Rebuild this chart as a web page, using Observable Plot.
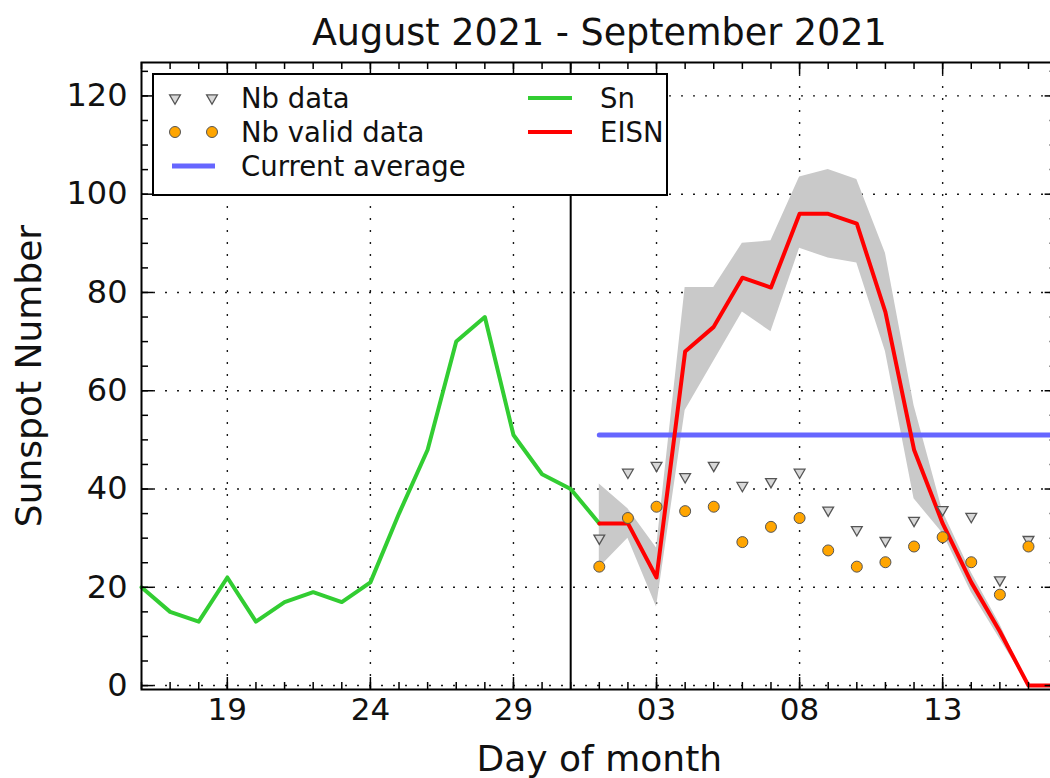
<!DOCTYPE html>
<html><head><meta charset="utf-8">
<script src="https://cdn.jsdelivr.net/npm/d3@7"></script>
<script src="https://cdn.jsdelivr.net/npm/@observablehq/plot@0.6"></script>
<style>
html,body{margin:0;padding:0;background:#fff;overflow:hidden;width:1050px;height:778px;}
#chart{position:relative;width:1050px;height:778px;overflow:hidden;}
#chart svg{max-width:none !important;}
</style></head><body><div id="chart"></div>
<script>
// ---- data ----
const snDates = ["2021-08-16","2021-08-17","2021-08-18","2021-08-19","2021-08-20","2021-08-21","2021-08-22","2021-08-23","2021-08-24","2021-08-25","2021-08-26","2021-08-27","2021-08-28","2021-08-29","2021-08-30","2021-08-31","2021-09-01"];
const snValues = [20,15,13,22,13,17,19,17,21,35,48,70,75,51,43,40,33];

const eisnDates = ["2021-09-01","2021-09-02","2021-09-03","2021-09-04","2021-09-05","2021-09-06","2021-09-07","2021-09-08","2021-09-09","2021-09-10","2021-09-11","2021-09-12","2021-09-13","2021-09-14","2021-09-15","2021-09-16","2021-09-17"];
const eisnValues = [33,33,22,68,73,83,81,96,96,94,76,48,33,21,11,0,0];
const eisnLow    = [24,30,16,56,66,76,72,89,87,86,68,38,31,19,9.5,0,0];
const eisnHigh   = [41,36,28,81,81,90,90.5,103.5,105,103,88,57,35.5,23,12.5,0,0];

const nbDates = ["2021-09-01","2021-09-02","2021-09-03","2021-09-04","2021-09-05","2021-09-06","2021-09-07","2021-09-08","2021-09-09","2021-09-10","2021-09-11","2021-09-12","2021-09-13","2021-09-14","2021-09-15","2021-09-16"];
const nbData  = [30,43.4,44.8,42.5,44.8,40.7,41.5,43.4,35.7,31.7,29.5,33.6,35.8,34.4,21.5,29.7];
const nbValid = [24.2,34.1,36.4,35.5,36.4,29.2,32.3,34.1,27.5,24.2,25.1,28.3,30.2,25.1,18.5,28.3];

const avgDates = ["2021-09-01","2021-09-17"];
const avgValue = 51;
const monthBoundary = ["2021-08-31"];

const xDomain = ["2021-08-16","2021-09-17"];
const yDomain = [-0.8, 126.8];
const xMajorTicks = ["2021-08-19","2021-08-24","2021-08-29","2021-09-03","2021-09-08","2021-09-13"];
const yMajorTicks = [0,20,40,60,80,100,120];
const yMinorStep = 5;

const titleText = "August 2021 - September 2021";
const xLabel = "Day of month";
const yLabel = "Sunspot Number";
const legendLeft = [["Nb data","tri"],["Nb valid data","dot"],["Current average","avg"]];
const legendRight = [["Sn","sn"],["EISN","eisn"]];

// ---- build ----
const P = s => new Date(s);
const sn = snDates.map((d,i)=>({date:P(d), v:snValues[i]}));
const eisn = eisnDates.map((d,i)=>({date:P(d), v:eisnValues[i], lo:eisnLow[i], hi:eisnHigh[i]}));
const nb = nbDates.map((d,i)=>({date:P(d), all:nbData[i], valid:nbValid[i]}));
const avg = avgDates.map(d=>({date:P(d), v:avgValue}));
const xMaj = xMajorTicks.map(P);
const xMin = d3.utcDay.range(P(xDomain[0]), d3.utcDay.offset(P(xDomain[1]),1));
const yMin = d3.range(0, yDomain[1], yMinorStep);

const W = 1060, H = 778, mL = 141, mR = 3.4, mT = 62, mB = 89;
const pw = W - mL - mR, ph = H - mT - mB;
const font = "DejaVu Sans";
const COL = {sn:"#32cd32", eisn:"#ff0000", avg:"#6666ff", band:"#c9c9c9", dot:"#ffa500", tri:"#d8d8d8", edge:"#555"};
const gridStyle = {stroke:"black", strokeOpacity:0.9, strokeWidth:1.4, strokeDasharray:"2,10"};
const tickStyle = {stroke:"black", strokeWidth:1.5};
const txt = {fill:"#111", textAnchor:"middle", lineAnchor:"middle"};

const chart = Plot.plot({
  width: W, height: H,
  marginLeft: mL, marginRight: mR, marginTop: mT, marginBottom: mB,
  style: {fontFamily: font, background: "white", overflow: "visible"},
  x: {type:"utc", domain: xDomain.map(P)},
  y: {domain: yDomain},
  marks: [
    Plot.gridX(xMaj, gridStyle),
    Plot.gridY(yMajorTicks, gridStyle),
    Plot.areaY(eisn, {x:"date", y1:"lo", y2:"hi", fill:COL.band}),
    Plot.ruleX(monthBoundary.map(P), {stroke:"black", strokeWidth:2}),
    Plot.line(sn, {x:"date", y:"v", stroke:COL.sn, strokeWidth:4}),
    Plot.line(avg, {x:"date", y:"v", stroke:COL.avg, strokeWidth:5}),
    Plot.line(eisn, {x:"date", y:"v", stroke:COL.eisn, strokeWidth:4}),
    Plot.dot(nb, {x:"date", y:"all", symbol:"triangle", rotate:180, r:4, fill:COL.tri, stroke:COL.edge, strokeWidth:1.3}),
    Plot.dot(nb, {x:"date", y:"valid", symbol:"circle", r:5.5, fill:COL.dot, stroke:COL.edge, strokeWidth:1}),
    // ticks (inward, all four sides)
    Plot.ruleX(xMin, {...tickStyle, insetTop: ph - 7}),
    Plot.ruleX(xMin, {...tickStyle, insetBottom: ph - 7}),
    Plot.ruleX(xMaj, {...tickStyle, insetTop: ph - 12}),
    Plot.ruleX(xMaj, {...tickStyle, insetBottom: ph - 12}),
    Plot.ruleY(yMin, {...tickStyle, insetRight: pw - 7}),
    Plot.ruleY(yMin, {...tickStyle, insetLeft: pw - 7}),
    Plot.ruleY(yMajorTicks, {...tickStyle, insetRight: pw - 12}),
    Plot.ruleY(yMajorTicks, {...tickStyle, insetLeft: pw - 12}),
    Plot.frame({stroke:"black", strokeWidth:2}),
    Plot.axisX(xMaj, {tickSize:0, tickPadding:8, tickFormat: d3.utcFormat("%d"), fontSize:31, label:null, fill:"#111"}),
    Plot.axisY(yMajorTicks, {tickSize:0, tickPadding:14, fontSize:32, label:null, fill:"#111"}),
    Plot.text([titleText], {...txt, frameAnchor:"top", dy:-29, fontSize:36.5}),
    Plot.text([xLabel], {...txt, frameAnchor:"bottom", dy:69.5, fontSize:36}),
    Plot.text([yLabel], {...txt, frameAnchor:"left", dx:-112, rotate:-90, fontSize:36})
  ]
});
chart.style.maxWidth = "none";
document.getElementById("chart").appendChild(chart);

// ---- legend (inside plot, upper left) ----
const svg = d3.select(chart);
const lg = svg.append("g").attr("font-family", font).attr("font-size", 27.5)
  .attr("fill", "#111").attr("text-anchor", "start");
const bx = 153, by = 74, bw = 514, bh = 121;
lg.append("rect").attr("x", bx).attr("y", by).attr("width", bw).attr("height", bh)
  .attr("fill", "white").attr("stroke", "black").attr("stroke-width", 2);
const rowY = [98, 132, 166];
const triPath = d3.symbol(d3.symbolTriangle, Math.PI*4*4)();
legendLeft.forEach(([label, kind], i) => {
  const y = rowY[i];
  if (kind === "tri") {
    [175, 212].forEach(x => lg.append("path").attr("d", triPath)
      .attr("transform", `translate(${x},${y}) rotate(180)`)
      .attr("fill", COL.tri).attr("stroke", COL.edge).attr("stroke-width", 1.3));
  } else if (kind === "dot") {
    [175, 212].forEach(x => lg.append("circle").attr("cx", x).attr("cy", y).attr("r", 5.5)
      .attr("fill", COL.dot).attr("stroke", COL.edge).attr("stroke-width", 1));
  } else {
    lg.append("line").attr("x1", 172).attr("x2", 215).attr("y1", y).attr("y2", y)
      .attr("stroke", COL.avg).attr("stroke-width", 5);
  }
  lg.append("text").attr("x", 241).attr("y", y).attr("dy", "0.35em").text(label);
});
legendRight.forEach(([label, kind], i) => {
  const y = rowY[i];
  lg.append("line").attr("x1", 528).attr("x2", 572).attr("y1", y).attr("y2", y)
    .attr("stroke", COL[kind]).attr("stroke-width", 4);
  lg.append("text").attr("x", 600).attr("y", y).attr("dy", "0.35em").text(label);
});
</script></body></html>
